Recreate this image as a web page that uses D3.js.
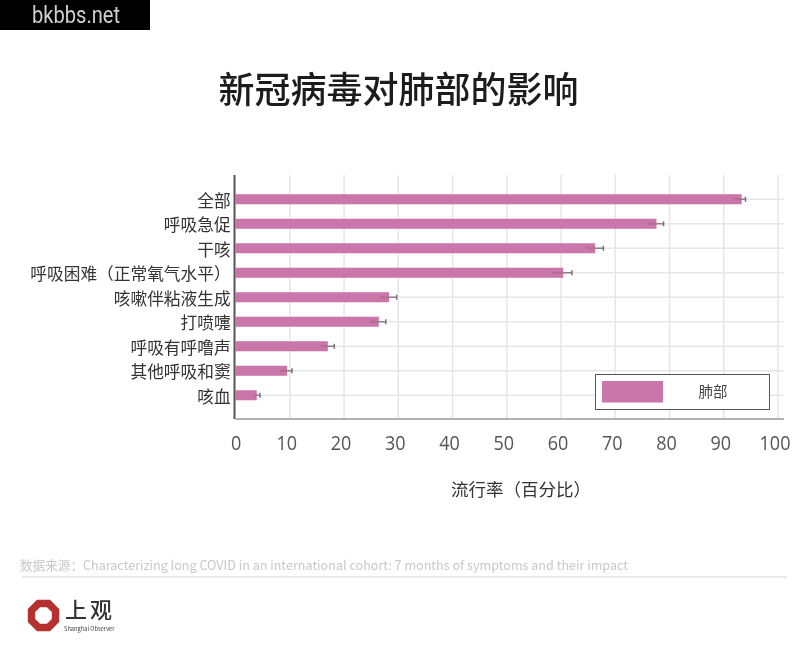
<!DOCTYPE html>
<html lang="zh">
<head>
    <meta charset="UTF-8">
    <title>新冠病毒对肺部的影响</title>
    <style type="text/css">
        * {
            margin: 0;
            padding: 0;
        }

        body {
            background: #fff;
        }

        #chart-area {
            width: 800px;
            height: 651px;
        }

        svg {
            filter: blur(0.35px);
        }

        text {
            font-family: "Noto Sans CJK SC", "Noto Sans", sans-serif;
        }
    </style>
</head>
<body>
<div id="chart-area"></div>
<script src="https://cdnjs.cloudflare.com/ajax/libs/d3/7.8.5/d3.min.js"></script>
<script type="text/javascript">

  const categories = ['全部', '呼吸急促', '干咳', '呼吸困难（正常氧气水平）', '咳嗽伴粘液生成', '打喷嚏', '呼吸有呼噜声', '其他呼吸和窦', '咳血']
  const prevalence = [93.3, 77.6, 66.3, 60.4, 28.3, 26.4, 17, 9.5, 3.9]
  const ciLow = [92, 76, 64.6, 58.5, 26.6, 24.8, 15.7, 8.2, 3.3]
  const ciHigh = [94, 78.9, 67.8, 62, 29.7, 27.7, 18.2, 10.4, 4.5]
  const xTicks = [0, 10, 20, 30, 40, 50, 60, 70, 80, 90, 100]

  const WIDTH = 800
  const HEIGHT = 651
  const BAR_COLOR = '#cb76ab'
  const GRID_COLOR = '#e6e6e8'

  const svg = d3.select('#chart-area').append('svg')
      .attr('width', WIDTH)
      .attr('height', HEIGHT)

  const x = d3.scaleLinear().domain([0, 100]).range([235.6, 778])
  const y = d3.scaleBand().domain(categories).range([187, 407.5])
      .paddingInner(0.59)
      .paddingOuter(0.295)

  const plotTop = 175
  const plotBottom = 419
  const plotRight = 784

  // watermark
  svg.append('rect').attr('width', 150).attr('height', 30).attr('fill', '#000')
  svg.append('text')
      .attr('x', 76)
      .attr('y', 23)
      .attr('text-anchor', 'middle')
      .attr('fill', '#d0d0d0')
      .style('font-family', 'Roboto, sans-serif')
      .attr('font-size', 23)
      .attr('textLength', 88)
      .attr('lengthAdjust', 'spacingAndGlyphs')
      .text('bkbbs.net')

  svg.append('text')
      .attr('x', 398.5)
      .attr('y', 103)
      .attr('text-anchor', 'middle')
      .attr('fill', '#1c1c1c')
      .attr('font-size', 36)
      .attr('font-weight', 500)
      .text('新冠病毒对肺部的影响')

  // grid
  const grid = svg.append('g')
  grid.selectAll('.v')
      .data(xTicks.slice(1))
      .enter()
      .append('line')
      .attr('x1', (d) => x(d))
      .attr('x2', (d) => x(d))
      .attr('y1', plotTop)
      .attr('y2', plotBottom)
      .attr('stroke', GRID_COLOR)
      .attr('stroke-width', 1.5)
  grid.selectAll('.h')
      .data(categories)
      .enter()
      .append('line')
      .attr('x1', x(0))
      .attr('x2', plotRight)
      .attr('y1', (d) => y(d) + y.bandwidth() / 2)
      .attr('y2', (d) => y(d) + y.bandwidth() / 2)
      .attr('stroke', GRID_COLOR)
      .attr('stroke-width', 1.5)

  // bars
  svg.selectAll('.bar')
      .data(categories)
      .enter()
      .append('rect')
      .attr('x', x(0))
      .attr('y', (d) => y(d))
      .attr('width', (d, i) => x(prevalence[i]) - x(0))
      .attr('height', y.bandwidth())
      .attr('fill', BAR_COLOR)

  // error bars
  const err = svg.selectAll('.err')
      .data(categories)
      .enter()
      .append('g')
      .attr('transform', (d) => `translate(0, ${y(d) + y.bandwidth() / 2})`)
  err.append('line')
      .attr('x1', (d, i) => x(ciLow[i]))
      .attr('x2', (d, i) => x(prevalence[i]))
      .attr('stroke', '#a9708f')
      .attr('stroke-width', 2)
  err.append('line')
      .attr('x1', (d, i) => x(prevalence[i]))
      .attr('x2', (d, i) => x(ciHigh[i]))
      .attr('stroke', '#8c8088')
      .attr('stroke-width', 1.5)
  err.append('line')
      .attr('x1', (d, i) => x(ciHigh[i]))
      .attr('x2', (d, i) => x(ciHigh[i]))
      .attr('y1', -2.5)
      .attr('y2', 2.5)
      .attr('stroke', '#77707a')
      .attr('stroke-width', 1.5)

  // axes
  const xAxis = svg.append('g')
      .attr('transform', `translate(0, ${plotBottom})`)
      .call(d3.axisBottom(x).tickValues(xTicks).tickSize(0).tickPadding(16))
  xAxis.select('.domain').remove()
  xAxis.selectAll('text')
      .attr('font-size', 20.5)
      .attr('fill', '#555')
      .attr('dx', (d) => d === 0 ? 0 : -3.5)
      .attr('textLength', (d) => String(d).length * 10.3)
      .attr('lengthAdjust', 'spacingAndGlyphs')
      .style('font-family', '"Open Sans", sans-serif')

  svg.append('line')
      .attr('x1', x(0))
      .attr('x2', plotRight)
      .attr('y1', plotBottom)
      .attr('y2', plotBottom)
      .attr('stroke', '#999')
      .attr('stroke-width', 1.5)

  const yAxis = svg.append('g')
      .attr('transform', `translate(${x(0)}, 0)`)
      .call(d3.axisLeft(y).tickSize(0).tickPadding(5))
  yAxis.select('.domain').remove()
  yAxis.selectAll('text')
      .attr('font-size', 16.7)
      .attr('fill', '#333')
      .attr('dy', '0.45em')

  svg.append('line')
      .attr('x1', 234.5)
      .attr('x2', 234.5)
      .attr('y1', plotTop)
      .attr('y2', plotBottom)
      .attr('stroke', '#555')
      .attr('stroke-width', 2)

  svg.append('text')
      .attr('x', 521)
      .attr('y', 496)
      .attr('text-anchor', 'middle')
      .attr('fill', '#333')
      .attr('font-size', 17.5)
      .text('流行率（百分比）')

  // legend
  svg.append('rect')
      .attr('x', 595.5)
      .attr('y', 374.5)
      .attr('width', 174)
      .attr('height', 35)
      .attr('fill', '#fff')
      .attr('stroke', '#555')
  svg.append('rect')
      .attr('x', 602)
      .attr('y', 381)
      .attr('width', 61)
      .attr('height', 21.5)
      .attr('fill', BAR_COLOR)
  svg.append('text')
      .attr('x', 713)
      .attr('y', 397)
      .attr('text-anchor', 'middle')
      .attr('fill', '#444')
      .attr('font-size', 14.5)
      .text('肺部')

  // source line
  svg.append('text')
      .attr('x', 20)
      .attr('y', 569.5)
      .attr('fill', '#c8c8c8')
      .attr('font-size', 12.6)
      .text('数据来源：Characterizing long COVID in an international cohort: 7 months of symptoms and their impact')
  svg.append('line')
      .attr('x1', 22)
      .attr('x2', 787)
      .attr('y1', 577)
      .attr('y2', 577)
      .attr('stroke', '#e2e2e2')
      .attr('stroke-width', 1.5)

  // logo
  const logo = svg.append('g').attr('transform', 'translate(43.5, 615.5)')
  const octagon = (r) => d3.range(8).map((i) => {
    const a = Math.PI / 8 + i * Math.PI / 4
    return [r * Math.cos(a), r * Math.sin(a)]
  })
  logo.append('polygon').attr('points', octagon(17).join(' ')).attr('fill', '#b5312f')
  logo.append('polygon').attr('points', octagon(9).join(' ')).attr('fill', '#fff')
  svg.append('text')
      .attr('x', 65)
      .attr('y', 618)
      .attr('fill', '#333')
      .attr('font-size', 22)
      .attr('font-weight', 500)
      .attr('letter-spacing', 3)
      .text('上观')
  svg.append('text')
      .attr('x', 64)
      .attr('y', 631)
      .attr('fill', '#444')
      .attr('font-size', 5.7)
      .text('Shanghai Observer')

</script>
</body>
</html>
